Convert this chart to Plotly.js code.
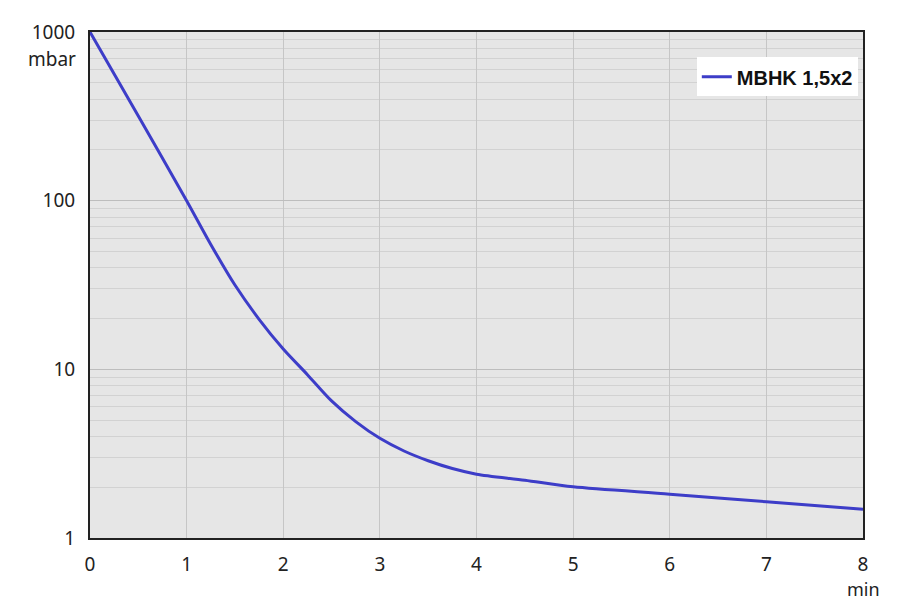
<!DOCTYPE html>
<html>
<head>
<meta charset="utf-8">
<script src="https://cdn.plot.ly/plotly-3.0.1.min.js"></script>
<style>html,body{margin:0;padding:0;background:#fff;}#chart{width:900px;height:602px;}</style>
</head>
<body>
<div id="chart"></div>
<script>
const seriesName = "MBHK 1,5x2";
const timeMin = [0, 0.5, 1, 1.25, 1.5, 1.75, 2, 2.25, 2.5, 2.75, 3, 3.25, 3.5, 3.75, 4, 4.5, 5, 6, 7, 8];
const pressureMbar = [1000, 318, 100, 55, 31.6, 19.8, 13.2, 9.3, 6.5, 4.9, 3.9, 3.28, 2.87, 2.58, 2.39, 2.2, 2.01, 1.82, 1.64, 1.48];
const xTickVals = [0, 1, 2, 3, 4, 5, 6, 7, 8];
const yTickVals = [1, 10, 100, 1000];
const yTickText = ["1", "10", "100", "1000"];
const yMinorVals = [2,3,4,5,6,7,8,9,20,30,40,50,60,70,80,90,200,300,400,500,600,700,800,900];
const xUnit = "min";
const yUnit = "mbar";

const tickFont = {family: "Noto Sans, Open Sans, sans-serif", size: 19, color: "#222"};

Plotly.newPlot("chart", [{
  x: timeMin, y: pressureMbar, type: "scatter", mode: "lines",
  name: seriesName, line: {color: "#3d3dc8", width: 3, shape: "spline", smoothing: 0.8}
}], {
  width: 900, height: 602,
  margin: {l: 89.5, r: 37, t: 32, b: 64},
  paper_bgcolor: "#ffffff", plot_bgcolor: "#e6e6e6",
  showlegend: true,
  legend: {x: 0.785, y: 0.95, xanchor: "left", yanchor: "top", bgcolor: "#ffffff",
    borderwidth: 0, font: {family: "Liberation Sans, Arial, sans-serif", size: 20, color: "#111", weight: "bold"},
    itemwidth: 30},
  xaxis: {range: [0, 8], tickvals: xTickVals, showgrid: true, gridcolor: "#c6c6c6", gridwidth: 1,
    zeroline: false, showline: true, linecolor: "#222", linewidth: 2, mirror: true,
    ticks: "", tickfont: tickFont, ticklabelstandoff: 8},
  yaxis: {type: "log", range: [0, 3], tickvals: yTickVals, ticktext: yTickText,
    showgrid: true, gridcolor: "#bdbdbd", gridwidth: 1,
    minor: {tickvals: yMinorVals, showgrid: true, gridcolor: "#d2d2d2", gridwidth: 1, ticks: ""},
    zeroline: false, showline: true, linecolor: "#222", linewidth: 2, mirror: true,
    ticks: "", tickfont: tickFont, ticklabelstandoff: 9},
  annotations: [
    {text: yUnit, xref: "paper", yref: "paper", x: 0, y: 1, xanchor: "right", yanchor: "top",
     xshift: -12, yshift: -12, showarrow: false, font: tickFont},
    {text: xUnit, xref: "paper", yref: "paper", x: 1, y: 0, xanchor: "center", yanchor: "middle",
     yshift: -51, showarrow: false, font: {family: tickFont.family, size: 18, color: "#222"}}
  ]
}, {displayModeBar: false, staticPlot: true});
</script>
</body>
</html>
